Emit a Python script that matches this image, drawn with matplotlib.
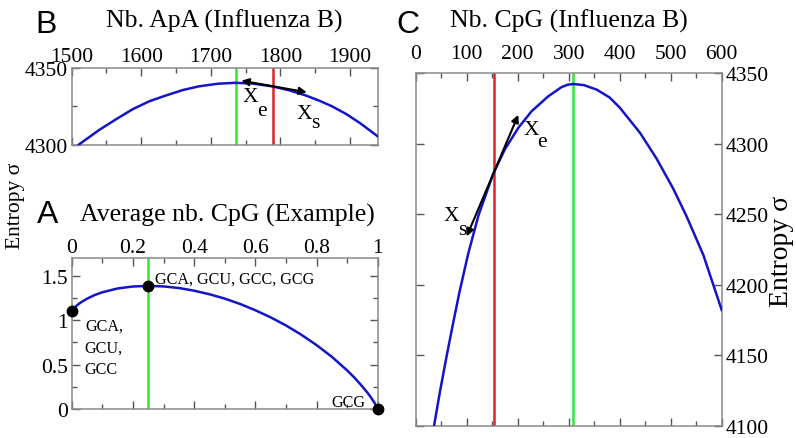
import matplotlib
matplotlib.use('Agg')
import matplotlib.pyplot as plt
from matplotlib.ticker import MultipleLocator, FixedLocator, FixedFormatter

plt.rcParams['font.family'] = ['Liberation Serif', 'DejaVu Serif']

# ---------------- data ----------------
# Panel A: average nb. CpG (example) vs entropy
a_x = [0, 0.005, 0.01, 0.02, 0.03, 0.05, 0.075, 0.1, 0.15, 0.2, 0.25, 0.3, 0.35,
       0.4, 0.45, 0.5, 0.55, 0.6, 0.65, 0.7, 0.75, 0.8, 0.85, 0.9, 0.925, 0.95,
       0.97, 0.98, 0.99, 0.995, 1.0]
a_y = [1.099, 1.125, 1.144, 1.175, 1.200, 1.242, 1.283, 1.314, 1.357, 1.379, 1.386,
       1.380, 1.362, 1.332, 1.292, 1.243, 1.183, 1.112, 1.032, 0.941, 0.837, 0.720,
       0.588, 0.435, 0.349, 0.253, 0.168, 0.120, 0.067, 0.037, 0.0]
a_pts_x = [0, 0.25, 1.0]
a_pts_y = [1.099, 1.386, 0.0]
a_green = 0.25
a_labels = ["GCA, GCU, GCC, GCG", "GCA,", "GCU,", "GCC", "GCG"]

# Panel B: nb. ApA (Influenza B)
b_x = [1510, 1540, 1565, 1588, 1612, 1636, 1660, 1683, 1710, 1735, 1760, 1788,
       1812, 1836, 1855, 1874, 1895, 1915, 1937, 1940]
b_y = [4300, 4309.8, 4317, 4323.3, 4328.5, 4332.3, 4335.8, 4338.2, 4339.9, 4340.5,
       4340, 4338.2, 4335.7, 4332.3, 4329, 4325.2, 4320, 4314, 4306.5, 4305.5]
b_green = 1736
b_red = 1789
b_arrow = [(1744, 4341.9), (1838, 4334.3)]

# Panel C: nb. CpG (Influenza B)
c_x = [36, 48, 61, 73, 86, 103, 123, 152, 175, 201, 227, 260, 286, 298, 309, 330,
       355, 380, 400, 440, 472, 505, 531, 564, 600]
c_y = [4100, 4125, 4150, 4172, 4195, 4222, 4249, 4278.5, 4296, 4311, 4322.8, 4333.5,
       4340, 4341.7, 4342.2, 4341.4, 4338.2, 4332.7, 4325.5, 4307.5, 4289.5, 4268,
       4248.5, 4221, 4182]
c_green = 309
c_red = 154
c_arrow = [(100, 4234.2), (201.2, 4320.4)]

# ---------------- style ----------------
W, H = 796, 439
BLUE = '#1414c8'
GREEN = '#33e833'
RED = '#e02222'
fig = plt.figure(figsize=(W / 100, H / 100), dpi=100)


def rect(l, t, r, b):
    return [l / W, 1 - b / H, (r - l) / W, (b - t) / H]


def style(ax):
    for s in ax.spines.values():
        s.set_color('#8a8a8a')
        s.set_linewidth(1.1)
    ax.tick_params(which='both', direction='in', top=True, bottom=True, left=True,
                   right=True, colors='#555555', labelcolor='black', labelsize=15.5)
    ax.tick_params(which='major', length=6, width=1)
    ax.tick_params(which='minor', length=3.5, width=1)


def ftext(x, y, s, **kw):
    fig.text(x / W, 1 - y / H, s, **kw)


axB = fig.add_axes(rect(71.7, 69.3, 377.7, 145.7))
axA = fig.add_axes(rect(71.7, 259, 377.7, 410))
axC = fig.add_axes(rect(415.7, 74, 721.7, 426.7))

arrow_props = dict(arrowstyle='<|-|>', color='black', lw=1.5,
                   mutation_scale=11, shrinkA=0, shrinkB=0)

# ---- Panel B ----
style(axB)
axB.plot(b_x, b_y, color=BLUE, lw=1.8, zorder=3)
axB.axvline(b_green, color=GREEN, lw=1.8, zorder=2)
axB.axvline(b_red, color=RED, lw=1.8, zorder=2)
axB.annotate('', xy=b_arrow[0], xytext=b_arrow[1], arrowprops=arrow_props, zorder=4)
axB.set_xlim(1500, 1940)
axB.set_ylim(4300, 4350)
axB.xaxis.set_major_locator(MultipleLocator(100))
axB.xaxis.set_minor_locator(MultipleLocator(50))
axB.yaxis.set_major_locator(FixedLocator([4300, 4350]))
axB.yaxis.set_minor_locator(FixedLocator([4325]))
axB.tick_params(axis='x', labeltop=True, labelbottom=False, pad=2)
axB.tick_params(axis='y', labelleft=True, labelright=False, pad=3)

# ---- Panel A ----
style(axA)
axA.plot(a_x, a_y, color=BLUE, lw=1.8, zorder=3)
axA.axvline(a_green, color=GREEN, lw=1.8, zorder=2)
axA.plot(a_pts_x, a_pts_y, 'o', color='black', ms=7.5, clip_on=False, zorder=5)
axA.set_xlim(0, 1)
axA.set_ylim(0, 1.7)
axA.xaxis.set_major_locator(FixedLocator([0, 0.2, 0.4, 0.6, 0.8, 1.0]))
axA.xaxis.set_major_formatter(FixedFormatter(['0', '0.2', '0.4', '0.6', '0.8', '1']))
axA.xaxis.set_minor_locator(MultipleLocator(0.1))
axA.yaxis.set_major_locator(FixedLocator([0, 0.5, 1.0, 1.5]))
axA.yaxis.set_major_formatter(FixedFormatter(['0', '0.5', '1', '1.5']))
axA.yaxis.set_minor_locator(MultipleLocator(0.25))
axA.tick_params(axis='x', labeltop=True, labelbottom=False, pad=1)
axA.tick_params(axis='y', labelleft=True, labelright=False, pad=3)
axA.text(0.272, 1.47, a_labels[0], fontsize=11.6, va='center', ha='left')
axA.text(0.045, 0.937, a_labels[1], fontsize=11.6, va='center', ha='left')
axA.text(0.04, 0.694, a_labels[2], fontsize=11.6, va='center', ha='left')
axA.text(0.04, 0.45, a_labels[3], fontsize=11.6, va='center', ha='left')
axA.text(0.959, 0.084, a_labels[4], fontsize=11.6, va='center', ha='right')

# ---- Panel C ----
style(axC)
axC.plot(c_x, c_y, color=BLUE, lw=1.8, zorder=3)
axC.axvline(c_green, color=GREEN, lw=1.8, zorder=2)
axC.axvline(c_red, color=RED, lw=1.8, zorder=2)
axC.annotate('', xy=c_arrow[0], xytext=c_arrow[1], arrowprops=arrow_props, zorder=4)
axC.set_xlim(0, 600)
axC.set_ylim(4100, 4350)
axC.xaxis.set_major_locator(MultipleLocator(100))
axC.xaxis.set_minor_locator(MultipleLocator(50))
axC.yaxis.set_major_locator(MultipleLocator(50))
axC.tick_params(axis='x', labeltop=True, labelbottom=False, pad=7)
axC.tick_params(axis='y', labelleft=False, labelright=True, pad=3)

# ---- text annotations (figure pixels) ----
tsize = 18.5
ftext(224.7, 28, 'Nb. ApA (Influenza B)', fontsize=tsize, ha='center', va='baseline')
ftext(227, 222, 'Average nb. CpG (Example)', fontsize=tsize, ha='center', va='baseline')
ftext(568.7, 28, 'Nb. CpG (Influenza B)', fontsize=tsize, ha='center', va='baseline')

lsz = 23
ftext(35, 33, 'B', fontsize=lsz, family=['Liberation Sans'], ha='left', va='baseline')
ftext(36.5, 223, 'A', fontsize=lsz, family=['Liberation Sans'], ha='left', va='baseline')
ftext(396, 33, 'C', fontsize=lsz, family=['Liberation Sans'], ha='left', va='baseline')

ftext(15.5, 206, 'Entropy σ', fontsize=15.5, rotation=90, ha='center', va='center')
ftext(781.5, 251.5, 'Entropy σ', fontsize=20, rotation=90, ha='center', va='center')

xs = 15.5
ftext(250, 97, 'X', fontsize=xs, ha='center', va='center')
ftext(261.5, 111, 'e', fontsize=xs, ha='center', va='center')
ftext(304, 114.5, 'X', fontsize=xs, ha='center', va='center')
ftext(315, 123, 's', fontsize=xs, ha='center', va='center')
ftext(531.5, 130.7, 'X', fontsize=xs, ha='center', va='center')
ftext(542, 142.5, 'e', fontsize=xs, ha='center', va='center')
ftext(451.5, 216.5, 'X', fontsize=xs, ha='center', va='center')
ftext(462, 231, 's', fontsize=xs, ha='center', va='center')

fig.savefig('out.png', dpi=100)
